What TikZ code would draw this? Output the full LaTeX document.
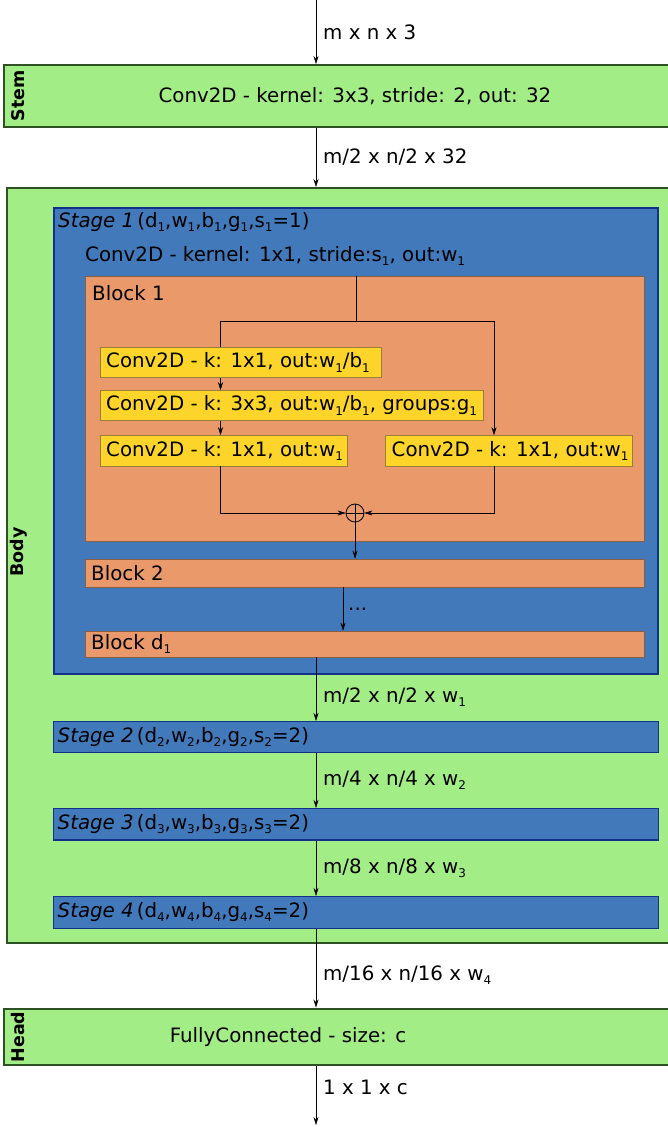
\documentclass[tikz,border=0pt]{standalone}
\usepackage{fontspec}
\setmainfont{DejaVu Sans}
\usepackage{tikz}
\usetikzlibrary{arrows.meta}

\definecolor{gfill}{HTML}{A3ED86}
\definecolor{gline}{HTML}{2E5224}
\definecolor{bfill}{HTML}{4179BA}
\definecolor{bline}{HTML}{12308C}
\definecolor{ofill}{HTML}{EA9A6A}
\definecolor{oline}{HTML}{8A5E40}
\definecolor{yfill}{HTML}{FDD52A}
\definecolor{yline}{HTML}{9A7E3A}

\newcommand{\ix}[1]{\raisebox{-0.22em}{\fontsize{12}{12}\selectfont #1}}

\tikzset{
	partbox/.style={draw=gline,line width=2pt,fill=gfill,inner sep=0pt},
	stagebox/.style={draw=bline,line width=1.2pt,fill=bfill,inner sep=0pt},
	blockbox/.style={draw=oline,line width=0.6pt,fill=ofill,inner sep=0pt},
	convbox/.style={draw=yline,line width=0.6pt,fill=yfill,inner sep=0pt},
	txt/.style={anchor=west,inner sep=0pt},
	lbl/.style={anchor=west,inner sep=0pt,xshift=7pt},
	part/.style={rotate=90,inner sep=0pt,font=\fontsize{17.5}{20}\selectfont\bfseries},
}

\begin{document}
\begin{tikzpicture}[x=1pt,y=-1pt,>={Stealth[length=8pt,width=5pt]},
		font=\fontsize{19.8}{23}\selectfont]
		\useasboundingbox (0,0) rectangle (668,1127);

		% outer parts (right edge runs off the page)
		\node[partbox,minimum width=670,minimum height=62] (stem) at (339,96) {};
		\node[partbox,minimum width=667,minimum height=755] (body) at (340.5,565.5) {};
		\node[partbox,minimum width=670,minimum height=56.5] (head) at (339,1036.75) {};
		\node[part] (stemt) at (18,95.5) {Stem};
		\node[part] (bodyt) at (18.5,552) {Body};
		\node[part] (headt) at (18,1037) {Head};
		\node (stemc) at (355,96) {Conv2D - kernel: 3x3, stride: 2, out: 32};
		\node (headc) at (288,1037) {FullyConnected - size: c};

		% stages
		\node[stagebox,minimum width=604,minimum height=466] (stage1) at (356,441) {};
		\node[stagebox,minimum width=605,minimum height=31] (stage2) at (356,737) {};
		\node[stagebox,minimum width=605,minimum height=31.5] (stage3) at (356,824.25) {};
		\node[stagebox,minimum width=605,minimum height=32] (stage4) at (356,912.5) {};
		\node[txt] (s1t) at (58,222) {\textit{Stage 1}\hspace{3pt}(d\ix1,w\ix1,b\ix1,g\ix1,s\ix1=1)};
		\node[txt] (s2t) at (57.5,737) {\textit{Stage 2}\hspace{3pt}(d\ix2,w\ix2,b\ix2,g\ix2,s\ix2=2)};
		\node[txt] (s3t) at (57.5,824) {\textit{Stage 3}\hspace{3pt}(d\ix3,w\ix3,b\ix3,g\ix3,s\ix3=2)};
		\node[txt] (s4t) at (57.5,912) {\textit{Stage 4}\hspace{3pt}(d\ix4,w\ix4,b\ix4,g\ix4,s\ix4=2)};
		\node[txt] (s1c) at (85,256) {Conv2D - kernel: 1x1, stride:s\ix1, out:w\ix1};

		% blocks
		\node[blockbox,minimum width=559,minimum height=265] (block1) at (364.5,408.5) {};
		\node[blockbox,minimum width=559,minimum height=28] (block2) at (364.5,573) {};
		\node[blockbox,minimum width=559,minimum height=26] (blockd) at (364.5,644) {};
		\node[txt] (b1t) at (92,293) {Block 1};
		\node[txt] (b2t) at (91,573) {Block 2};
		\node[txt] (bdt) at (91,644) {Block d\ix1};

		% convolutions in block 1
		\node[convbox,minimum width=280.5,minimum height=30] (conv1) at (240.75,362.5) {};
		\node[convbox,minimum width=382.5,minimum height=30] (conv2) at (291.75,405.5) {};
		\node[convbox,minimum width=246.5,minimum height=30.5] (conv3) at (223.75,450.75) {};
		\node[convbox,minimum width=246.5,minimum height=30.5] (conv4) at (508.75,450.75) {};
		\node[txt] (c1t) at (106,362.5) {Conv2D - k: 1x1, out:w\ix1/b\ix1};
		\node[txt] (c2t) at (106,405.5) {Conv2D - k: 3x3, out:w\ix1/b\ix1, groups:g\ix1};
		\node[txt] (c3t) at (106,450.75) {Conv2D - k: 1x1, out:w\ix1};
		\node[txt] (c4t) at (391.5,450.75) {Conv2D - k: 1x1, out:w\ix1};
		\node[circle,draw,thick,minimum size=18,inner sep=0pt] (sum) at (355,513) {};

		\coordinate (in) at (316,0);
		\coordinate (out) at (316,1125);
		\coordinate (split) at (356.5,321);
		\coordinate (lb) at (220.5,321);
		\coordinate (rb) at (494,321);
		\coordinate (skip) at (343,609);

		% main flow
		\draw[->] (in) -- (in |- stem.north) node[lbl,midway] {m x n x 3};
		\draw[->] (in |- stem.south) -- (in |- body.north) node[lbl,midway] {m/2 x n/2 x 32};
		\draw[->] (in |- blockd.south) -- (in |- stage2.north) node[lbl,pos=0.63] {m/2 x n/2 x w\ix1};
		\draw[->] (in |- stage2.south) -- (in |- stage3.north) node[lbl,midway] {m/4 x n/4 x w\ix2};
		\draw[->] (in |- stage3.south) -- (in |- stage4.north) node[lbl,midway] {m/8 x n/8 x w\ix3};
		\draw[->] (in |- stage4.south) -- (in |- head.north) node[lbl,pos=0.59] {m/16 x n/16 x w\ix4};
		\draw[->] (in |- head.south) -- (out) node[lbl,pos=0.37] {1 x 1 x c};

		% inside block 1
		\draw (split |- block1.north) -- (split) (lb) -- (rb);
		\draw (lb) -- (lb |- conv1.north);
		\draw[->] (rb) -- (rb |- conv4.north);
		\draw[->] (lb |- conv1.south) -- (lb |- conv2.north);
		\draw[->] (lb |- conv2.south) -- (lb |- conv3.north);
		\draw[->] (lb |- conv3.south) |- (sum.west);
		\draw[->] (rb |- conv4.south) |- (sum.east);
		\draw (sum.north) -- (sum.south) (sum.west) -- (sum.east);
		\draw[->] (sum.south) -- (sum |- block2.north);
		\draw[->] (skip |- block2.south) -- (skip |- blockd.north) node[lbl,midway,xshift=-2pt] {...};
\end{tikzpicture}
\end{document}
